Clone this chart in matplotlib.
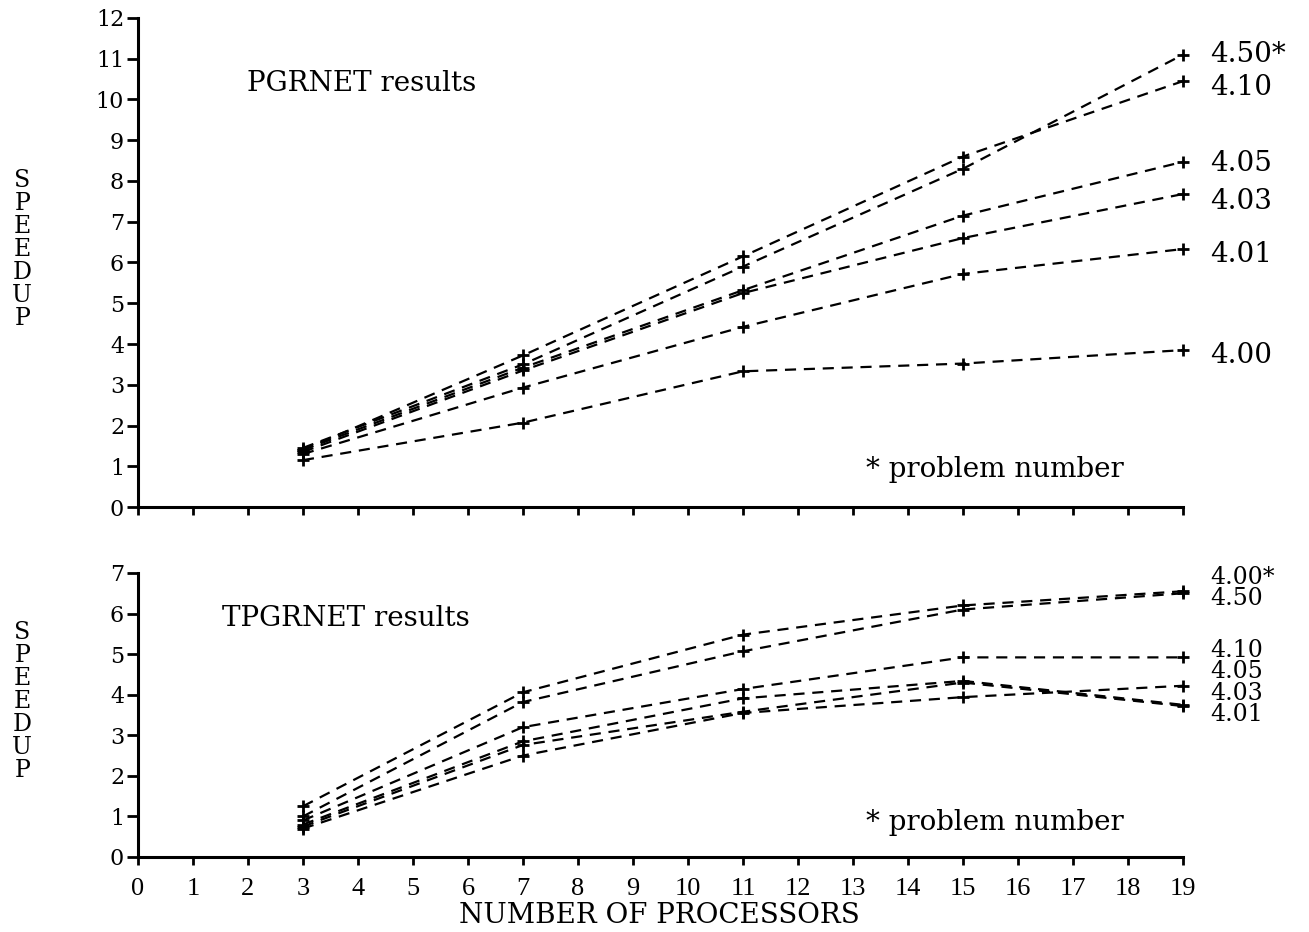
import matplotlib
matplotlib.use('Agg')
import matplotlib.pyplot as plt
from matplotlib import rcParams

rcParams['font.family'] = 'serif'
rcParams['font.serif'] = ['DejaVu Serif', 'Liberation Serif']

procs = [3, 7, 11, 15, 19]

# PGRNET speedups (problem number -> values at 3, 7, 11, 15, 19 processors)
pg_names = ['4.50*', '4.10', '4.05', '4.03', '4.01', '4.00']
pg_450 = [1.45, 3.50, 5.90, 8.30, 11.10]
pg_410 = [1.40, 3.72, 6.15, 8.60, 10.45]
pg_405 = [1.40, 3.42, 5.32, 7.15, 8.47]
pg_403 = [1.35, 3.35, 5.25, 6.60, 7.68]
pg_401 = [1.30, 2.93, 4.42, 5.72, 6.33]
pg_400 = [1.15, 2.07, 3.33, 3.52, 3.85]
pg_series = [pg_450, pg_410, pg_405, pg_403, pg_401, pg_400]

# TPGRNET speedups
tp_names = ['4.00*', '4.50', '4.10', '4.05', '4.03', '4.01']
tp_400 = [1.25, 4.06, 5.48, 6.20, 6.55]
tp_450 = [1.00, 3.82, 5.07, 6.10, 6.50]
tp_410 = [0.90, 3.20, 4.14, 4.92, 4.92]
tp_405 = [0.80, 2.85, 3.91, 4.34, 3.75]
tp_403 = [0.70, 2.50, 3.55, 3.94, 4.22]
tp_401 = [0.75, 2.76, 3.58, 4.30, 3.72]
tp_series = [tp_400, tp_450, tp_410, tp_405, tp_403, tp_401]

fig = plt.figure(figsize=(13.09, 9.32), dpi=100)
ax1 = fig.add_axes([0.1054, 0.456, 0.7983, 0.5247])
ax2 = fig.add_axes([0.1054, 0.0805, 0.7983, 0.3047])

def style(ax, ymax):
    for s in ['top', 'right']:
        ax.spines[s].set_visible(False)
    for s in ['left', 'bottom']:
        ax.spines[s].set_linewidth(2.2)
    ax.set_xlim(0, 19)
    ax.set_ylim(0, ymax)
    ax.set_xticks(range(0, 20))
    ax.set_yticks(range(0, ymax + 1))
    ax.tick_params(axis='y', length=8, width=2, labelsize=16, pad=2)
    ax.tick_params(axis='x', length=6, width=2, labelsize=19, pad=9)
    for lab in ax.get_xticklabels():
        lab.set_fontfamily('Liberation Serif')

for ys in pg_series:
    ax1.plot(procs, ys, color='black', lw=1.6, dashes=(5, 3.5),
             marker='+', ms=9, mew=2, clip_on=False)
for ys in tp_series:
    ax2.plot(procs, ys, color='black', lw=1.6, dashes=(5, 3.5),
             marker='+', ms=9, mew=2, clip_on=False)

style(ax1, 12)
style(ax2, 7)
ax1.set_xticklabels([])

# curve labels at the right end
pg_label_y = [11.1, 10.3, 8.42, 7.5, 6.2, 3.73]
for name, y in zip(pg_names, pg_label_y):
    ax1.text(19.5, y, name, fontsize=20, va='center', ha='left', clip_on=False)
tp_label_y = [6.9, 6.38, 5.08, 4.56, 4.04, 3.52]
for name, y in zip(tp_names, tp_label_y):
    ax2.text(19.5, y, name, fontsize=17, va='center', ha='left', clip_on=False)

ax1.text(1.98, 10.4, 'PGRNET results', fontsize=20, va='center')
ax2.text(1.53, 5.89, 'TPGRNET results', fontsize=20, va='center')
ax1.text(13.24, 0.91, '* problem number', fontsize=20, va='center')
ax2.text(13.24, 0.86, '* problem number', fontsize=20, va='center')

fig.text(0.017, 0.732, 'S\nP\nE\nE\nD\nU\nP', fontsize=17, ha='center',
         va='center', linespacing=1.0)
fig.text(0.017, 0.247, 'S\nP\nE\nE\nD\nU\nP', fontsize=17, ha='center',
         va='center', linespacing=1.0)
fig.text(0.504, 0.018, 'NUMBER OF PROCESSORS', fontsize=20, ha='center',
         va='center')

fig.savefig('out.png', dpi=100)
